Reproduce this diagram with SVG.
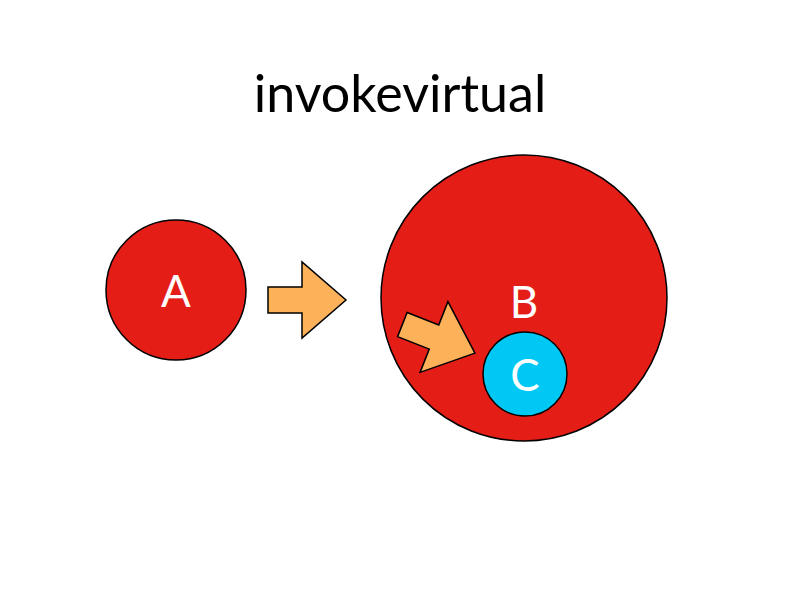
<svg xmlns="http://www.w3.org/2000/svg" width="800" height="600" viewBox="0 0 800 600">
<style>
.red{fill:#e41e17;stroke:#000;stroke-width:1.5}
.arr{fill:#fdb25a;stroke:#000;stroke-width:1.5;stroke-linejoin:miter}
.lbl{font-family:Lato,"Open Sans",sans-serif;font-size:44px;fill:#fff;text-anchor:middle}
</style>
<defs><polygon id="arrow" points="-34,-13 0,-13 0,-38 44,0 0,38 0,13 -34,13" class="arr"/></defs>
<rect width="800" height="600" fill="#fff"/>
<text x="400" y="112" font-family="Lato,'Open Sans',sans-serif" font-size="52" text-anchor="middle" fill="#000">invokevirtual</text>
<g id="nodeA"><circle cx="176" cy="290" r="70" class="red"/><text x="176" y="307" class="lbl">A</text></g>
<g id="nodeB"><circle cx="524" cy="298" r="143" class="red"/><text x="524" y="318" class="lbl">B</text></g>
<g id="nodeC"><circle cx="525" cy="374" r="42" fill="#00c8f4" stroke="#000" stroke-width="1.5"/><text x="525" y="391" class="lbl">C</text></g>
<g id="connectors">
<use href="#arrow" transform="translate(302,300)"/>
<use href="#arrow" transform="translate(434,337) rotate(21.5)"/>
</g>
</svg>
